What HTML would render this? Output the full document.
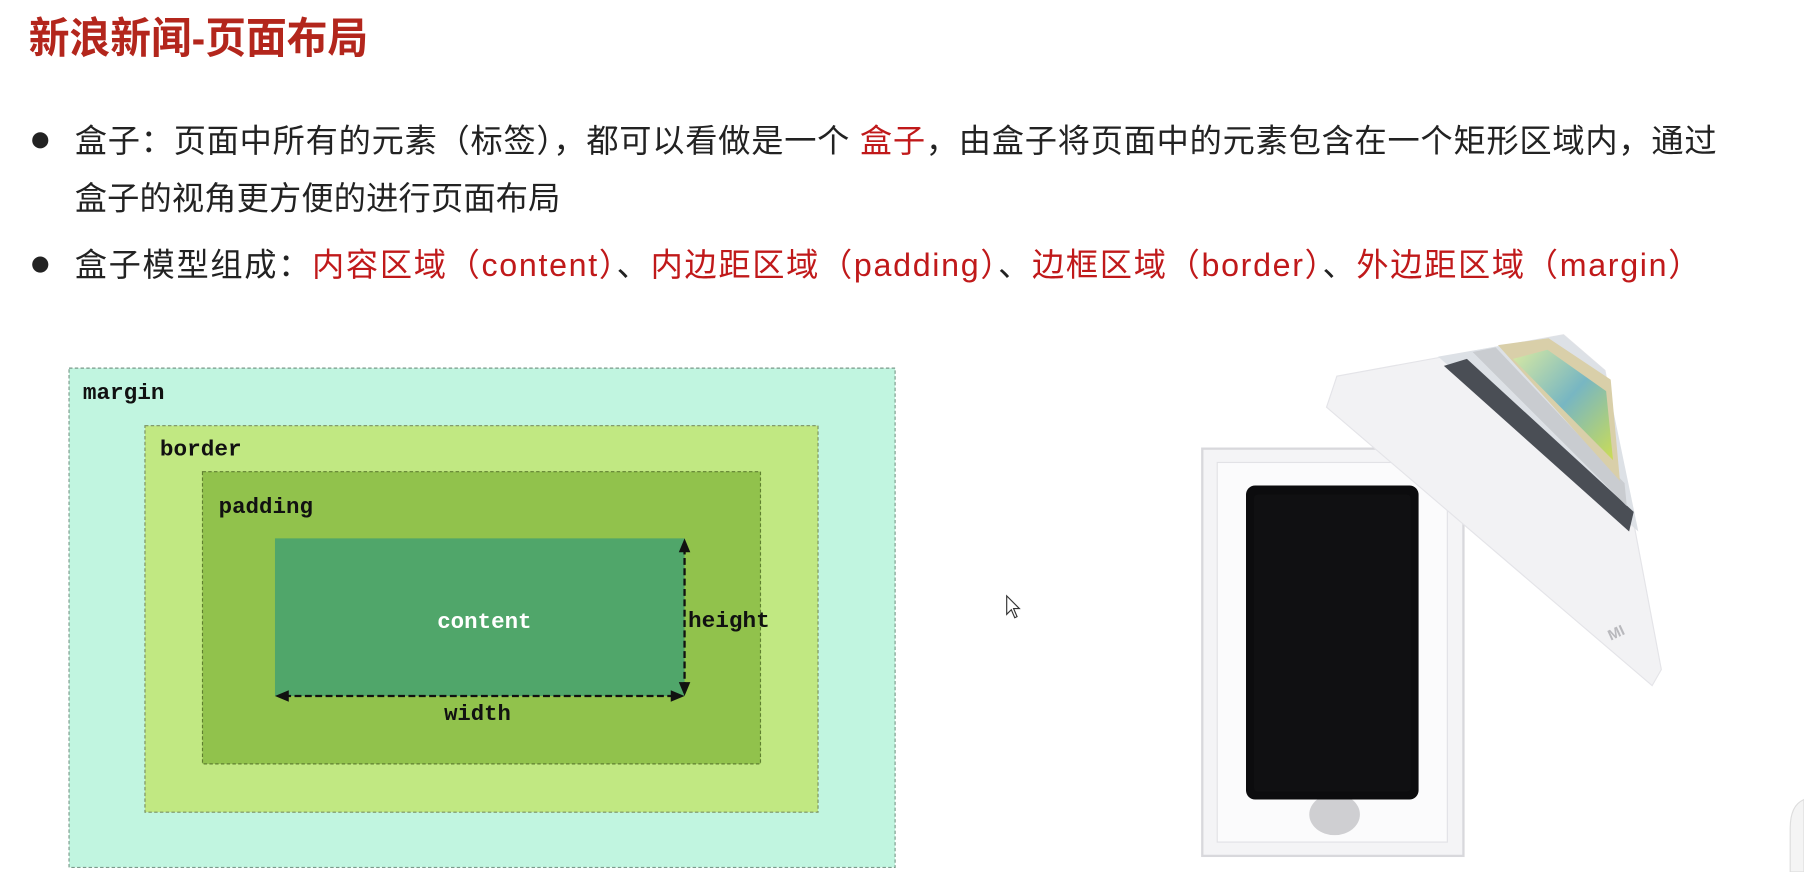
<!DOCTYPE html>
<html><head><meta charset="utf-8"><style>
html,body{margin:0;padding:0;background:#fff;}
svg{display:block;}
text{font-family:"Liberation Sans","Noto Sans CJK SC",sans-serif;}
.mono{font-family:"Liberation Mono","DejaVu Sans Mono",monospace;font-weight:bold;}
</style></head><body>
<svg width="1804" height="872" viewBox="0 0 1568 758" preserveAspectRatio="none" xmlns="http://www.w3.org/2000/svg">
<defs>
<linearGradient id="ph" x1="0" y1="0" x2="1" y2="1"><stop offset="0" stop-color="#d8f0a0"/><stop offset="0.5" stop-color="#5fb0c8"/><stop offset="1" stop-color="#c8e040"/></linearGradient>
</defs>
<rect width="1568" height="758" fill="#fff"/>
<text x="25" y="46" font-size="37" font-weight="bold" fill="#b3261c" textLength="295" lengthAdjust="spacingAndGlyphs">新浪新闻-页面布局</text>

<circle cx="35" cy="122" r="7" fill="#222"/>
<text x="65" y="132" font-size="28" fill="#222" textLength="1427" lengthAdjust="spacing">盒子：页面中所有的元素（标签），都可以看做是一个 <tspan fill="#c0191a">盒子</tspan>，由盒子将页面中的元素包含在一个矩形区域内，通过</text>
<text x="65" y="182" font-size="28" fill="#222" textLength="422" lengthAdjust="spacing">盒子的视角更方便的进行页面布局</text>
<circle cx="35" cy="230" r="7" fill="#222"/>
<text x="65" y="240" font-size="28" fill="#222" textLength="1413" lengthAdjust="spacing">盒子模型组成：<tspan fill="#c0191a">内容区域（content）</tspan>、<tspan fill="#c0191a">内边距区域（padding）</tspan>、<tspan fill="#c0191a">边框区域（border）</tspan>、<tspan fill="#c0191a">外边距区域（margin）</tspan></text>

<!-- box model -->
<rect x="60" y="320" width="718" height="434" fill="#c1f5e0" stroke="#7a9a8a" stroke-dasharray="3,2" stroke-width="1"/>
<rect x="126" y="370" width="585" height="336" fill="#c1e882" stroke="#7a9060" stroke-dasharray="3,2" stroke-width="1"/>
<rect x="176" y="410" width="485" height="254" fill="#91c24c" stroke="#5f7f30" stroke-dasharray="3,2" stroke-width="1"/>
<rect x="239" y="468" width="356" height="137" fill="#50a66a"/>
<text class="mono" x="72" y="347" font-size="19" fill="#111" textLength="71" lengthAdjust="spacingAndGlyphs">margin</text>
<text class="mono" x="139" y="396" font-size="19" fill="#111" textLength="71" lengthAdjust="spacingAndGlyphs">border</text>
<text class="mono" x="190" y="446" font-size="19" fill="#111" textLength="82" lengthAdjust="spacingAndGlyphs">padding</text>
<text class="mono" x="380" y="546" font-size="19" fill="#fff" textLength="82" lengthAdjust="spacingAndGlyphs">content</text>
<text class="mono" x="598" y="545" font-size="19" fill="#111" textLength="71" lengthAdjust="spacingAndGlyphs">height</text>
<text class="mono" x="386" y="626" font-size="19" fill="#111" textLength="58" lengthAdjust="spacingAndGlyphs" font-weight="normal">width</text>
<line x1="595" y1="476" x2="595" y2="597" stroke="#111" stroke-width="2" stroke-dasharray="6,3"/>
<polygon points="595,468 590,480 600,480" fill="#111"/>
<polygon points="595,605 590,593 600,593" fill="#111"/>
<line x1="247" y1="605" x2="587" y2="605" stroke="#111" stroke-width="2" stroke-dasharray="6,3"/>
<polygon points="239,605 251,600 251,610" fill="#111"/>
<polygon points="595,605 583,600 583,610" fill="#111"/>

<!-- cursor -->
<path d="M875,518 L875,534 L879,530 L882,537 L884,536 L881,529 L886,529 Z" fill="#fff" stroke="#333" stroke-width="1"/>

<!-- phone box -->
<rect x="1045" y="390" width="227" height="354" fill="#f4f4f6" stroke="#d8d8dc" stroke-width="2"/>
<rect x="1058" y="402" width="200" height="330" fill="#fbfbfc" stroke="#e2e2e6"/>
<ellipse cx="1160" cy="708" rx="22" ry="18" fill="#cfcfd2"/>
<rect x="1083" y="422" width="150" height="273" rx="8" fill="#0c0c0e"/>
<rect x="1090" y="430" width="136" height="258" rx="3" fill="#101012"/>
<!-- lid -->
<polygon points="1153,354 1162,327 1359,291 1395,322 1444,582 1436,596" fill="#f2f2f4" stroke="#e4e4e8"/>
<polygon points="1250,310 1359,291 1395,322 1424,462" fill="#dde1e6"/>
<polygon points="1255,318 1275,312 1420,445 1416,462" fill="#4a4e55"/>
<polygon points="1280,306 1300,302 1412,420 1414,440" fill="#c9ccd0"/>
<polygon points="1302,300 1346,294 1400,330 1408,418" fill="#d9cfa9"/>
<polygon points="1315,312 1345,304 1396,340 1402,400" fill="url(#ph)" opacity="0.8"/>
<text x="1400" y="557" font-size="13" font-weight="bold" fill="#b9b9bd" transform="rotate(-25 1400 557)">MI</text>
<path d="M1568,695 Q1556,700 1556,720 L1556,758 L1568,758 Z" fill="#f4f4f4" stroke="#ddd"/>
</svg>
</body></html>
